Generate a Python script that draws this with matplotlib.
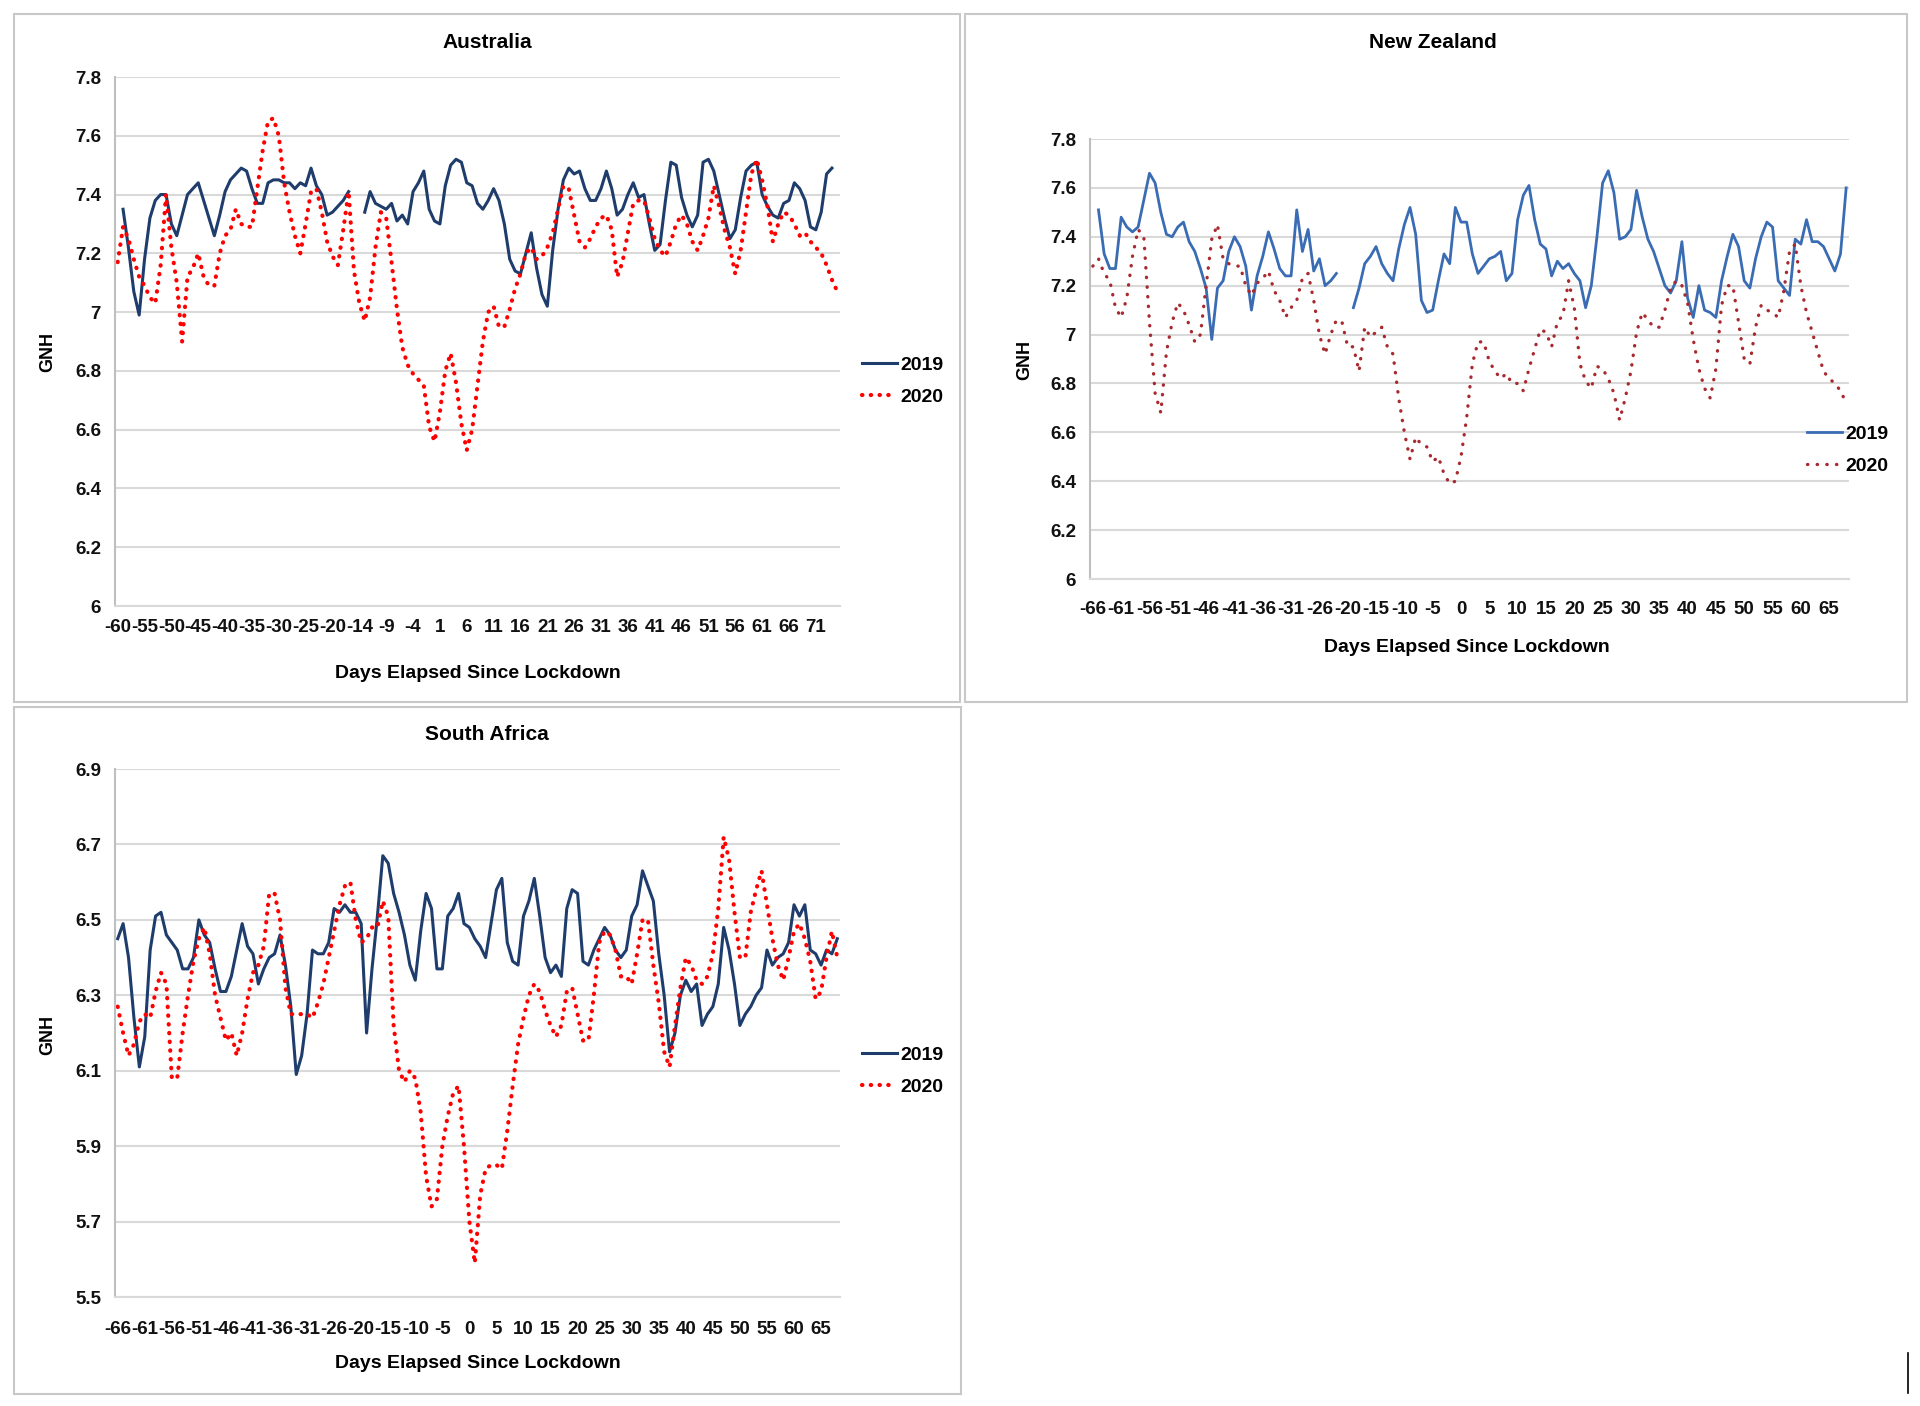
import matplotlib
matplotlib.use('Agg')
import matplotlib.pyplot as plt
from matplotlib.patches import Rectangle
from matplotlib.lines import Line2D

plt.rcParams['font.family'] = ['Liberation Sans Narrow', 'Liberation Sans', 'DejaVu Sans']
plt.rcParams['font.weight'] = 'bold'

# tick labels (every 5th day, excel category axis)
au_ticks = ['-60', '-55', '-50', '-45', '-40', '-35', '-30', '-25', '-20', '-14', '-9', '-4', '1', '6',
            '11', '16', '21', '26', '31', '36', '41', '46', '51', '56', '61', '66', '71']
nz_ticks = ['-66', '-61', '-56', '-51', '-46', '-41', '-36', '-31', '-26', '-20', '-15', '-10', '-5', '0',
            '5', '10', '15', '20', '25', '30', '35', '40', '45', '50', '55', '60', '65']
sa_ticks = list(nz_ticks)

# Australia
au_2019 = [None, 7.35, 7.22, 7.07, 6.99, 7.18, 7.32, 7.38, 7.40, 7.40,
           7.30, 7.26, 7.33, 7.40, 7.42, 7.44, 7.38, 7.32, 7.26, 7.33,
           7.41, 7.45, 7.47, 7.49, 7.48, 7.42, 7.37, 7.37, 7.44, 7.45,
           7.45, 7.44, 7.44, 7.42, 7.44, 7.43, 7.49, 7.43, 7.40, 7.33,
           7.34, 7.36, 7.38, 7.41, None, None, 7.34, 7.41, 7.37, 7.36,
           7.35, 7.37, 7.31, 7.33, 7.30, 7.41, 7.44, 7.48, 7.35, 7.31,
           7.30, 7.43, 7.50, 7.52, 7.51, 7.44, 7.43, 7.37, 7.35, 7.38,
           7.42, 7.38, 7.30, 7.18, 7.14, 7.13, 7.20, 7.27, 7.15, 7.06,
           7.02, 7.21, 7.35, 7.45, 7.49, 7.47, 7.48, 7.42, 7.38, 7.38,
           7.42, 7.48, 7.42, 7.33, 7.35, 7.40, 7.44, 7.39, 7.40, 7.30,
           7.21, 7.23, 7.38, 7.51, 7.50, 7.39, 7.33, 7.29, 7.33, 7.51,
           7.52, 7.48, 7.40, 7.32, 7.25, 7.28, 7.39, 7.48, 7.50, 7.51,
           7.40, 7.36, 7.33, 7.32, 7.37, 7.38, 7.44, 7.42, 7.38, 7.29,
           7.28, 7.34, 7.47, 7.49, None]
au_2020 = [7.17, 7.29, 7.25, 7.18, 7.12, 7.09, 7.05, 7.03, 7.16, 7.40,
           7.22, 7.10, 6.90, 7.12, 7.15, 7.20, 7.12, 7.09, 7.09, 7.20,
           7.26, 7.28, 7.35, 7.30, 7.29, 7.29, 7.42, 7.55, 7.65, 7.66,
           7.60, 7.44, 7.34, 7.26, 7.20, 7.30, 7.41, 7.42, 7.34, 7.24,
           7.19, 7.16, 7.28, 7.41, 7.14, 7.03, 6.97, 7.05, 7.22, 7.34,
           7.32, 7.17, 7.01, 6.88, 6.82, 6.79, 6.77, 6.75, 6.61, 6.56,
           6.66, 6.80, 6.86, 6.76, 6.62, 6.53, 6.60, 6.75, 6.90, 7.00,
           7.02, 6.95, 6.95, 7.01, 7.08, 7.13, 7.20, 7.22, 7.18, 7.19,
           7.22, 7.27, 7.35, 7.43, 7.42, 7.33, 7.24, 7.22, 7.25, 7.29,
           7.32, 7.33, 7.28, 7.12, 7.17, 7.27, 7.37, 7.38, 7.38, 7.32,
           7.25, 7.21, 7.19, 7.24, 7.30, 7.33, 7.30, 7.24, 7.21, 7.26,
           7.32, 7.43, 7.36, 7.28, 7.22, 7.13, 7.21, 7.34, 7.47, 7.52,
           7.45, 7.36, 7.24, 7.30, 7.34, 7.33, 7.30, 7.26, 7.27, 7.24,
           7.22, 7.20, 7.16, 7.11, 7.07]

# New Zealand
nz_2019 = [None, 7.51, 7.33, 7.27, 7.27, 7.48, 7.44, 7.42, 7.44, 7.55,
           7.66, 7.62, 7.50, 7.41, 7.40, 7.44, 7.46, 7.38, 7.34, 7.27,
           7.19, 6.98, 7.19, 7.22, 7.34, 7.40, 7.36, 7.28, 7.10, 7.24,
           7.32, 7.42, 7.35, 7.27, 7.24, 7.24, 7.51, 7.34, 7.43, 7.26,
           7.31, 7.20, 7.22, 7.25, None, None, 7.11, 7.19, 7.29, 7.32,
           7.36, 7.29, 7.25, 7.22, 7.35, 7.45, 7.52, 7.41, 7.14, 7.09,
           7.10, 7.22, 7.33, 7.29, 7.52, 7.46, 7.46, 7.33, 7.25, 7.28,
           7.31, 7.32, 7.34, 7.22, 7.25, 7.47, 7.57, 7.61, 7.47, 7.37,
           7.35, 7.24, 7.30, 7.27, 7.29, 7.25, 7.22, 7.11, 7.20, 7.40,
           7.62, 7.67, 7.58, 7.39, 7.40, 7.43, 7.59, 7.48, 7.39, 7.34,
           7.27, 7.20, 7.17, 7.22, 7.38, 7.15, 7.07, 7.20, 7.10, 7.09,
           7.07, 7.22, 7.32, 7.41, 7.36, 7.22, 7.19, 7.31, 7.40, 7.46,
           7.44, 7.22, 7.19, 7.16, 7.39, 7.37, 7.47, 7.38, 7.38, 7.36,
           7.31, 7.26, 7.33, 7.60]
nz_2020 = [7.28, 7.31, 7.25, 7.22, 7.11, 7.07, 7.15, 7.32, 7.43, 7.40,
           7.05, 6.76, 6.68, 6.93, 7.05, 7.13, 7.10, 7.04, 6.97, 7.00,
           7.20, 7.39, 7.45, 7.31, 7.29, 7.28, 7.28, 7.20, 7.16, 7.21,
           7.23, 7.26, 7.18, 7.14, 7.07, 7.11, 7.14, 7.23, 7.25, 7.14,
           7.00, 6.92, 7.00, 7.06, 7.05, 6.95, 6.95, 6.85, 7.03, 6.99,
           7.01, 7.03, 6.95, 6.92, 6.74, 6.60, 6.49, 6.58, 6.55, 6.54,
           6.48, 6.50, 6.43, 6.39, 6.40, 6.50, 6.66, 6.88, 6.97, 6.97,
           6.89, 6.85, 6.82, 6.84, 6.80, 6.80, 6.77, 6.86, 6.94, 7.02,
           7.01, 6.95, 7.05, 7.08, 7.22, 7.11, 6.88, 6.81, 6.78, 6.87,
           6.86, 6.82, 6.76, 6.65, 6.74, 6.85, 7.01, 7.09, 7.06, 7.03,
           7.03, 7.10, 7.19, 7.22, 7.20, 7.13, 6.98, 6.86, 6.78, 6.74,
           6.86, 7.12, 7.20, 7.20, 7.05, 6.90, 6.88, 7.03, 7.12, 7.10,
           7.09, 7.07, 7.18, 7.34, 7.37, 7.20, 7.09, 7.01, 6.93, 6.85,
           6.82, 6.80, 6.77, 6.72]

# South Africa
sa_2019 = [6.45, 6.49, 6.40, 6.24, 6.11, 6.19, 6.42, 6.51, 6.52, 6.46,
           6.44, 6.42, 6.37, 6.37, 6.40, 6.50, 6.46, 6.44, 6.37, 6.31,
           6.31, 6.35, 6.42, 6.49, 6.43, 6.41, 6.33, 6.37, 6.40, 6.41,
           6.46, 6.38, 6.27, 6.09, 6.14, 6.25, 6.42, 6.41, 6.41, 6.44,
           6.53, 6.52, 6.54, 6.52, 6.52, 6.49, 6.20, 6.37, 6.51, 6.67,
           6.65, 6.57, 6.52, 6.46, 6.38, 6.34, 6.47, 6.57, 6.53, 6.37,
           6.37, 6.51, 6.53, 6.57, 6.49, 6.48, 6.45, 6.43, 6.40, 6.49,
           6.58, 6.61, 6.44, 6.39, 6.38, 6.51, 6.55, 6.61, 6.51, 6.40,
           6.36, 6.38, 6.35, 6.53, 6.58, 6.57, 6.39, 6.38, 6.42, 6.45,
           6.48, 6.46, 6.42, 6.40, 6.42, 6.51, 6.54, 6.63, 6.59, 6.55,
           6.41, 6.30, 6.15, 6.20, 6.30, 6.34, 6.31, 6.33, 6.22, 6.25,
           6.27, 6.33, 6.48, 6.42, 6.33, 6.22, 6.25, 6.27, 6.30, 6.32,
           6.42, 6.38, 6.40, 6.41, 6.44, 6.54, 6.51, 6.54, 6.42, 6.41,
           6.38, 6.42, 6.41, 6.45]
sa_2020 = [6.27, 6.20, 6.14, 6.17, 6.23, 6.25, 6.24, 6.31, 6.36, 6.33,
           6.08, 6.08, 6.20, 6.30, 6.39, 6.45, 6.48, 6.41, 6.30, 6.24,
           6.18, 6.20, 6.14, 6.20, 6.29, 6.36, 6.38, 6.43, 6.57, 6.57,
           6.50, 6.32, 6.25, 6.25, 6.25, 6.25, 6.24, 6.28, 6.33, 6.40,
           6.47, 6.54, 6.59, 6.60, 6.50, 6.44, 6.45, 6.48, 6.48, 6.55,
           6.51, 6.22, 6.10, 6.07, 6.10, 6.08, 5.99, 5.82, 5.74, 5.76,
           5.90, 5.98, 6.04, 6.06, 5.90, 5.70, 5.59, 5.77, 5.84, 5.85,
           5.85, 5.84, 5.94, 6.06, 6.17, 6.24, 6.30, 6.33, 6.31, 6.26,
           6.22, 6.19, 6.22, 6.31, 6.32, 6.25, 6.18, 6.18, 6.30, 6.44,
           6.47, 6.46, 6.42, 6.35, 6.35, 6.33, 6.41, 6.50, 6.50, 6.38,
           6.28, 6.15, 6.11, 6.22, 6.32, 6.40, 6.38, 6.34, 6.33, 6.35,
           6.41, 6.53, 6.72, 6.66, 6.52, 6.40, 6.40, 6.52, 6.58, 6.63,
           6.54, 6.45, 6.38, 6.34, 6.40, 6.47, 6.49, 6.45, 6.39, 6.29,
           6.31, 6.40, 6.47, 6.40]

W, H = 1920, 1406


def fx(px):
    return px / W


def fy(py):
    return 1 - py / H


def to_float(vals):
    return [float('nan') if v is None else v for v in vals]


#one excel-like panel
def draw_panel(fig, box, area, title, title_xy, ticks, s2019, s2020, ylim, yticks,
               ylabels, c2019, c2020, lw2019, lw2020, dots, xpad, glabel_xy,
               xlabel_xy, leg_xy):
    # frame around the whole chart
    fig.add_artist(Rectangle((fx(box[0]), fy(box[3])), fx(box[2] - box[0]),
                             (box[3] - box[1]) / H, transform=fig.transFigure,
                             fill=False, edgecolor='#c8c8c8', lw=1.5))
    l, t, r, b = area
    ax = fig.add_axes([fx(l), fy(b), fx(r - l), (b - t) / H])
    n = len(s2019)
    x = list(range(n))
    l1, = ax.plot(x, to_float(s2019), color=c2019, lw=lw2019, solid_joinstyle='round')
    l2, = ax.plot(x, to_float(s2020), color=c2020, lw=lw2020,
                  linestyle=(0, dots), dash_capstyle='round')
    ax.set_xlim(-0.5, n - 0.5)
    ax.set_ylim(*ylim)
    ax.set_yticks(yticks)
    ax.set_yticklabels(ylabels)
    ax.set_xticks(list(range(0, n, 5))[:len(ticks)])
    ax.set_xticklabels(ticks)
    ax.yaxis.grid(True, color='#d9d9d9', lw=1.5)
    ax.set_axisbelow(True)
    for s in ['top', 'right']:
        ax.spines[s].set_visible(False)
    ax.spines['left'].set_color('#bfbfbf')
    ax.spines['bottom'].set_color('#d9d9d9')
    ax.spines['left'].set_linewidth(1.5)
    ax.spines['bottom'].set_linewidth(1.5)
    ax.tick_params(axis='both', length=0, labelsize=13.5, colors='#111111')
    ax.tick_params(axis='y', pad=10)
    ax.tick_params(axis='x', pad=xpad)

    fig.text(fx(title_xy[0]), fy(title_xy[1]), title, ha='center', va='center',
             fontsize=15, fontweight='bold')
    fig.text(fx(glabel_xy[0]), fy(glabel_xy[1]), 'GNH', ha='center', va='center',
             rotation=90, fontsize=13, fontweight='bold')
    fig.text(fx(xlabel_xy[0]), fy(xlabel_xy[1]), 'Days Elapsed Since Lockdown',
             ha='center', va='center', fontsize=14, fontweight='bold')
    ax.legend([l1, l2], ['2019', '2020'], loc='center left',
              bbox_to_anchor=(fx(leg_xy[0]), fy(leg_xy[1])), bbox_transform=fig.transFigure,
              frameon=False, handlelength=1.8, handletextpad=0.15, labelspacing=0.75,
              borderpad=0, borderaxespad=0, prop={'size': 14, 'weight': 'bold'})
    return ax


fig = plt.figure(figsize=(W / 100, H / 100), dpi=100)

dark_blue = '#1f3d6c'
red = '#ff0000'
y_au = [6, 6.2, 6.4, 6.6, 6.8, 7, 7.2, 7.4, 7.6, 7.8]
y_au_lab = ['6', '6.2', '6.4', '6.6', '6.8', '7', '7.2', '7.4', '7.6', '7.8']
y_sa = [5.5, 5.7, 5.9, 6.1, 6.3, 6.5, 6.7, 6.9]
y_sa_lab = ['5.5', '5.7', '5.9', '6.1', '6.3', '6.5', '6.7', '6.9']

# pixel boxes: frame (l, t, r, b) and plot area (l, t, r, b)
draw_panel(fig, (14, 14, 960, 702), (115, 77, 840, 606), 'Australia', (487, 43),
           au_ticks, au_2019, au_2020, (6, 7.8), y_au, y_au_lab,
           dark_blue, red, 2.2, 3.0, (0.1, 2.0), 9, (48, 352), (478, 673), (862, 381))

draw_panel(fig, (965, 14, 1907, 702), (1090, 139, 1849, 579), 'New Zealand', (1433, 43),
           nz_ticks, nz_2019, nz_2020, (6, 7.8), y_au, y_au_lab,
           '#3a6cb4', '#a8292e', 2.0, 2.4, (0.1, 2.8), 16, (1025, 360), (1467, 647), (1807, 450))

draw_panel(fig, (14, 707, 961, 1394), (115, 769, 840, 1297), 'South Africa', (487, 734),
           sa_ticks, sa_2019, sa_2020, (5.5, 6.9), y_sa, y_sa_lab,
           dark_blue, red, 2.2, 3.0, (0.1, 2.0), 17, (48, 1035), (478, 1363), (862, 1071))

# small stray mark bottom right of the page
fig.add_artist(Line2D([fx(1908), fx(1908)], [fy(1353), fy(1393)], transform=fig.transFigure,
                      color='black', lw=1.2))

plt.savefig('out.png', dpi=100)
plt.close()
